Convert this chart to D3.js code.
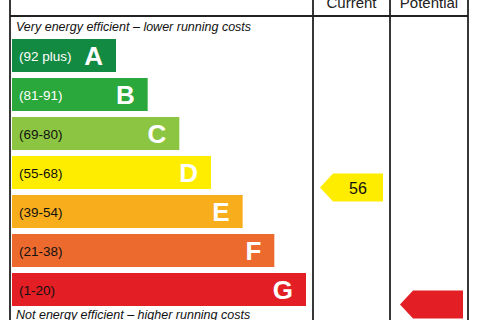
<!DOCTYPE html>
<html>
<head>
<meta charset="utf-8">
<script src="https://cdn.jsdelivr.net/npm/d3@7"></script>
<style>
  body { margin: 0; background: #fff; }
  svg { display: block; font-family: "Liberation Sans", Arial, sans-serif; }
</style>
</head>
<body>
<svg id="epc"></svg>
<script>
  var width = 480
  var height = 320

  // rating bands, best to worst
  var bands = ["A", "B", "C", "D", "E", "F", "G"]
  var ranges = ["(92 plus)", "(81-91)", "(69-80)", "(55-68)", "(39-54)", "(21-38)", "(1-20)"]
  var colors = ["#138a42", "#2aa83c", "#8cc541", "#ffed00", "#f8ad1d", "#ec6a2e", "#e31e25"]
  var labelColors = ["#fff", "#fff", "#111", "#111", "#111", "#111", "#111"]

  var columns = ["Current", "Potential"]
  var currentValue = 56
  var currentBand = "D"
  var potentialBand = "G"   // value is off the picture

  var svg = d3.select("#epc")
      .attr("width", width)
      .attr("height", height)

  var y = d3.scaleBand()
      .domain(bands)
      .range([39, 306])
      .paddingInner(6 / 39)

  // right end of each bar grows one step per band
  var barEnd = d3.scaleLinear()
      .domain([0, bands.length - 1])
      .range([116, 306])

  // column edges: chart | current | potential
  var edges = [10, 313, 390, 468]

  // bars
  var bar = svg.append("g")
      .selectAll("g")
      .data(bands)
      .enter()
      .append("g")

  bar.append("rect")
      .attr("x", 12)
      .attr("y", d => y(d))
      .attr("width", (d, i) => barEnd(i) - 12)
      .attr("height", y.bandwidth())
      .attr("fill", (d, i) => colors[i])

  bar.append("text")
      .attr("x", 19)
      .attr("y", d => y(d) + y.bandwidth() / 2 + 5)
      .attr("font-size", 13.5)
      .attr("fill", (d, i) => labelColors[i])
      .text((d, i) => ranges[i])

  bar.append("text")
      .attr("x", (d, i) => barEnd(i) - 13)
      .attr("y", d => y(d) + y.bandwidth() / 2 + 9)
      .attr("text-anchor", "end")
      .attr("font-size", 26)
      .attr("font-weight", "bold")
      .attr("fill", "#fff")
      .text(d => d)

  // captions
  svg.append("text")
      .attr("x", 16).attr("y", 31)
      .attr("font-size", 12.5)
      .attr("font-style", "italic")
      .attr("fill", "#111")
      .text("Very energy efficient \u2013 lower running costs")

  svg.append("text")
      .attr("x", 16).attr("y", 319)
      .attr("font-size", 12.5)
      .attr("font-style", "italic")
      .attr("fill", "#111")
      .text("Not energy efficient \u2013 higher running costs")

  // column headers (cut by the top edge, as in the source)
  svg.append("g")
      .selectAll("text")
      .data(columns)
      .enter()
      .append("text")
      .attr("x", (d, i) => (edges[i + 1] + edges[i + 2]) / 2)
      .attr("y", 8)
      .attr("text-anchor", "middle")
      .attr("font-size", 15)
      .attr("fill", "#222")
      .text(d => d)

  // grid lines
  var grid = svg.append("g")
      .attr("stroke", "#222")
      .attr("stroke-width", 1.8)
      .attr("fill", "none")

  grid.append("line")
      .attr("x1", edges[0]).attr("x2", edges[3])
      .attr("y1", 16).attr("y2", 16)

  grid.selectAll("line.v")
      .data(edges)
      .enter()
      .append("line")
      .attr("class", "v")
      .attr("x1", d => d).attr("x2", d => d)
      .attr("y1", 0).attr("y2", height)

  // arrows
  function arrow(col, pad, band, fill, label) {
    var cy = y(band) + y.bandwidth() / 2 + 15
    var w = 63, h = 28, tip = 13
    var x0 = edges[col] + pad
    var pts = [[x0, cy], [x0 + tip, cy - h / 2], [x0 + w, cy - h / 2],
               [x0 + w, cy + h / 2], [x0 + tip, cy + h / 2]]
    svg.append("path")
        .attr("d", d3.line()(pts) + "Z")
        .attr("fill", fill)
    if (label != null) {
      svg.append("text")
          .attr("x", x0 + tip + (w - tip) / 2)
          .attr("y", cy + 6)
          .attr("text-anchor", "middle")
          .attr("font-size", 16)
          .attr("fill", "#111")
          .text(label)
    }
  }

  arrow(1, 7, currentBand, colors[3], currentValue)
  arrow(2, 10, potentialBand, colors[6], null)
</script>
</body>
</html>
